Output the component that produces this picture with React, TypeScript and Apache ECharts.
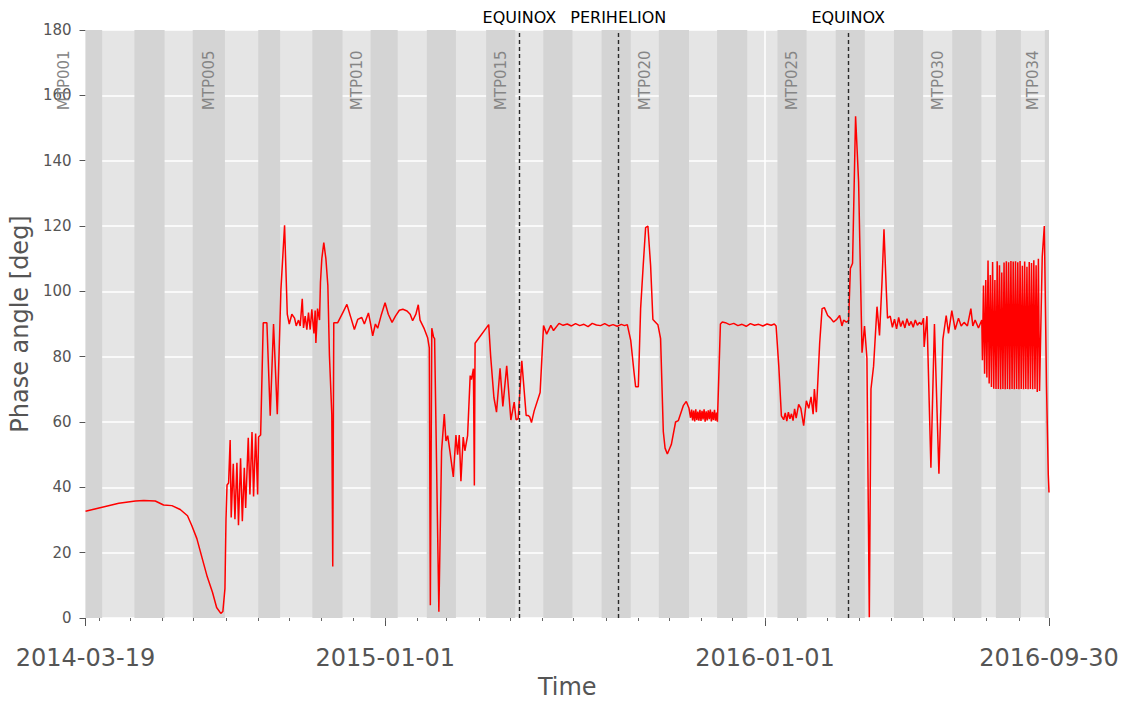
import React, { useEffect, useRef } from "react";
import * as echarts from "echarts";

const START_DATE = "2014-03-19";
const END_DATE = "2016-09-30";
const majorTickDates = ["2014-03-19", "2015-01-01", "2016-01-01", "2016-09-30"];
const yMin = 0;
const yMax = 180;
const yStep = 20;

// Start dates of MTP001 ... MTP035, followed by the end of MTP035
const mtpStartDates = [
  "2014-01-20", "2014-04-04", "2014-05-05", "2014-06-03", "2014-06-30",
  "2014-07-31", "2014-09-01", "2014-09-22", "2014-10-23", "2014-11-21",
  "2014-12-18", "2015-01-13", "2015-02-10", "2015-03-10", "2015-04-08",
  "2015-05-06", "2015-06-02", "2015-06-30", "2015-07-28", "2015-08-25",
  "2015-09-21", "2015-10-20", "2015-11-16", "2015-12-15", "2016-01-13",
  "2016-02-10", "2016-03-09", "2016-04-06", "2016-05-04", "2016-06-01",
  "2016-06-29", "2016-07-27", "2016-08-10", "2016-09-03", "2016-09-26",
  "2016-10-24",
];
const mtpLabelNumbers = [1, 5, 10, 15, 20, 25, 30, 34];

const eventDates = ["2015-05-10", "2015-08-13", "2016-03-21"];
const eventLabels = ["EQUINOX", "PERIHELION", "EQUINOX"];
const gridLineDates = ["2016-01-01"];

// [days since 2014-03-19, phase angle in degrees]
const phase2014: [number, number][] = [
  [0, 32.7], [16, 33.9], [32, 35.1], [48, 35.8], [56, 36.0], [67, 35.8], [75, 34.6], [83, 34.4],
  [91, 33.2], [98, 31.3], [102, 28.4], [107, 24.3], [112, 18.4], [117, 12.6], [122, 7.9], [126, 3.2],
  [130, 1.4], [132, 2.0], [134, 9.0], [135, 30.2], [136, 40.7], [137.5, 41.3], [139, 54.5], [140, 30.8],
  [142, 47.2], [143.6, 30.2], [145.5, 47.5], [147, 28.4], [149, 48.9], [150.7, 29.6], [152.6, 46.0],
  [153.9, 33.7], [156.4, 55.2], [158, 37.8], [160, 56.9], [161.5, 37.2], [163.5, 56.5], [165.4, 37.8],
  [166.3, 55.4], [168.3, 56.0], [170.8, 90.4], [174.3, 90.4], [177.5, 61.9], [180.7, 90.0], [184.3, 62.4],
  [187.8, 100.6], [191.3, 120.2], [193.9, 93.0], [195.8, 90.0], [198.3, 93.0], [200.9, 91.8], [202.5, 89.4],
  [204.7, 91.2], [206.3, 89.4], [208.3, 97.7], [209.5, 88.8], [211.1, 92.4], [212.7, 88.3], [214.3, 93.5],
  [215.9, 88.3], [217.5, 94.5], [219.5, 87.1], [220.7, 94.1], [221.4, 84.2], [223, 94.7], [224.9, 91.2],
  [225.8, 102.8], [227.1, 110], [229, 114.9], [231, 110], [232.9, 101.8], [234.4, 80.5], [236.7, 62.2],
  [237.6, 15.8], [238.6, 90.4], [242.4, 90.4], [243.5, 91.1], [247.3, 93.5], [251.2, 96.0], [254.6, 92.4],
  [258.4, 88.3], [261.6, 91.4], [265.5, 92.0], [268, 90.0], [271.9, 93.4], [274, 90.0], [276, 86.4],
  [278.6, 90.0], [280.8, 88.7], [284, 92.5], [287.9, 96.5],
];

const phase2015: [number, number][] = [
  [291, 93.0], [294.6, 90.5], [298, 92.5], [301.6, 94.2], [305, 94.5], [309, 94.0], [312, 93.0],
  [314.4, 91.0], [317.5, 93.0], [319.8, 95.9], [321.5, 91.2], [325.6, 88.5], [328.8, 85.8], [330.4, 82.7],
  [331.4, 3.9], [332.8, 88.7], [334.5, 86.0], [335.5, 85.5], [339.6, 1.9], [342.2, 51.1], [344.8, 62.4],
  [346.4, 54.2], [348.1, 55.8], [350.4, 50.6], [353.5, 43.2], [356, 56.0], [357.6, 50.0], [359.2, 56.0],
  [360.8, 41.9], [363, 55.4], [364.6, 51.2], [367.2, 55.8], [369.7, 74.2], [370.9, 73.0], [372.8, 76.3],
  [373.7, 40.6], [374.4, 84.1], [387.5, 89.8], [389.4, 80.0], [392.5, 67.5], [395, 63.0], [398.4, 76.4],
  [401.1, 64.8], [404.8, 77.2], [408.8, 60.6], [412, 66.1], [413.8, 60.7], [415.8, 61.0], [419.3, 78.7],
  [423.5, 62.0], [425.5, 62.0], [427, 61.5], [428.6, 59.8], [431.2, 63.4], [436.9, 69.0], [440.2, 89.5],
  [443.2, 86.9], [447.2, 89.6], [449.8, 88.0], [455.1, 90.2], [459, 89.6], [463, 90.0], [467, 89.4],
  [471, 90.1], [475, 89.5], [479, 89.9], [483, 89.2], [487, 90.2], [491, 89.7], [495, 89.5], [499, 90.1],
  [503, 89.4], [507, 89.8], [511, 89.3], [515, 89.9], [518, 89.5], [520.7, 89.8], [524, 85.0],
  [527.1, 75.4], [528.7, 70.8], [531.3, 70.8], [533.5, 94.7], [536, 108], [538.3, 119.5], [540.5, 120.0],
  [543.1, 107.9], [545.3, 91.4], [550.1, 89.8], [552.7, 85.5], [555.3, 57.1], [557, 52], [559.2, 50.2],
  [563, 53.1], [567.1, 60.0], [569.7, 60.4], [574.5, 65.0], [577.4, 66.3], [579.9, 64.3], [581.5, 61.3],
  [582.5, 63.8], [583.5, 60.5], [584.5, 63.5], [585.5, 60.2], [586.5, 63.9], [587.5, 60.6], [588.5, 63.2],
  [589.5, 60.4], [590.5, 63.7], [591.5, 60.3], [592.5, 63.4], [593.5, 60.8], [594.5, 63.9], [595.5, 60.1],
  [596.5, 63.3], [597.5, 60.5], [598.5, 63.6], [599.5, 60.9], [600.5, 63.8], [601.5, 60.2], [602.5, 63.1],
  [603.5, 60.6], [604.5, 63.7], [605.5, 60.4], [606.5, 62.9], [607.3, 60.1], [610.2, 90.0], [612, 90.6],
  [615, 90.4], [619, 89.8], [623, 90.2], [627, 89.5], [631, 89.9], [635, 89.3], [639, 90.1], [643, 89.6],
  [647, 89.9], [651, 89.4],
];

const phase2016: [number, number][] = [
  [655, 90.0], [659, 89.6], [662, 90.0], [663.7, 89.4], [666.3, 77.1], [668.8, 61.9], [671, 60.7],
  [672.5, 62.8], [674, 60.3], [675.5, 63.0], [677, 61.0], [678.5, 62.5], [680, 60.4], [681.5, 64.0],
  [683, 61.2], [685.4, 65.4], [687.5, 64.2], [690.2, 58.9], [692.8, 66.5], [695.1, 64.2], [697.3, 67.7],
  [699.3, 62.4], [700.5, 70.1], [702.4, 63.0], [705.6, 84.2], [707.9, 94.7], [710.1, 95.0], [713.3, 92.6],
  [716, 91.8], [719, 90.6], [722, 91.4], [724.8, 92.6], [727, 89.4], [728.6, 91.2], [731.2, 90.6],
  [733.4, 91.0], [735.1, 107.0], [737.2, 108.6], [740.1, 153.6], [743, 133.5], [746.3, 81.2], [748.7, 89.4],
  [751, 79.5], [753.3, 0.2], [754.9, 70.1], [757.4, 77.1], [760.7, 95.3], [763.1, 86.5], [765.5, 102.9],
  [767.4, 119.0], [769.6, 100.6], [770.8, 91.8], [773.4, 92.4], [775.5, 89.0], [777.5, 91.5], [779.5, 88.5],
  [781.5, 92.0], [783.5, 89.2], [785.5, 91.0], [787.5, 88.8], [789.5, 91.6], [791.5, 89.5], [793.5, 90.8],
  [795.5, 89.0], [797.5, 91.2], [799.5, 89.6], [801.5, 90.5], [803.5, 89.8], [805.4, 91.8], [806.0, 83.0],
  [808.7, 92.4], [812.5, 46.0], [815.9, 90.0], [820.2, 44.2], [824, 85.3], [827.2, 92.6], [829.4, 87.1],
  [832.6, 94.1], [835.8, 88.3], [839, 91.8], [841.6, 89.4], [844.4, 90.5], [847.6, 89.4], [850.9, 94.7],
  [852.8, 89.4], [855, 91.2], [858.2, 88.8], [861.4, 91.2], [862, 78.9],
  [863.0, 101.8], [864.1, 74.8], [865.2, 103.5], [866.3, 73.6], [867.4, 109.4], [868.5, 71.8], [869.6, 105.0],
  [870.7, 70.7], [871.8, 109.0], [872.9, 70.2], [874.0, 103.5], [875.1, 70.1], [876.2, 109.2], [877.3, 70.1],
  [878.4, 108.0], [879.5, 70.0], [880.6, 105.8], [881.7, 70.1], [882.8, 108.8], [883.9, 70.0], [885.0, 109.2],
  [886.1, 70.1], [887.2, 108.9], [888.3, 70.0], [889.4, 109.3], [890.5, 70.1], [891.6, 109.1], [892.7, 70.0],
  [893.8, 109.2], [894.9, 70.1], [896.0, 108.9], [897.1, 70.0], [898.2, 109.3], [899.3, 70.1], [900.4, 107.8],
  [901.5, 70.0], [902.6, 109.1], [903.7, 70.1], [904.8, 107.5], [905.9, 70.0], [907.0, 109.0], [908.1, 70.1],
  [909.2, 108.7], [910.3, 70.0], [911.4, 109.5], [912.5, 70.1], [913.6, 108.0], [914.7, 69.2], [915.8, 110.0],
  [916.9, 69.5], [919.5, 110.6], [921.5, 120.0], [923.6, 71.2], [925.3, 43.9], [926, 38.4],
];

const DAY = 86400000;
const toTs = (s: string) => Date.parse(s + "T00:00:00Z");
const fmtDate = (v: number) => new Date(v).toISOString().slice(0, 10);

const FONT = "DejaVu Sans";
const MTP_LABEL_Y = 164.6;

export default function App() {
  const ref = useRef<HTMLDivElement>(null);

  useEffect(() => {
    document.body.style.margin = "0";
    if (!ref.current) return;
    const chart = echarts.init(ref.current, undefined, { renderer: "svg" });

    const xMin = toTs(START_DATE);
    const xMax = toTs(END_DATE);
    const clamp = (v: number) => Math.min(xMax, Math.max(xMin, v));

    const lineData = [...phase2014, ...phase2015, ...phase2016].map(([d, v]) => [xMin + d * DAY, v]);

    const mtpTs = mtpStartDates.map(toTs);
    const bands: any[] = [];
    for (let i = 0; i < mtpTs.length - 1; i += 2) {
      bands.push([{ xAxis: clamp(mtpTs[i]) }, { xAxis: clamp(mtpTs[i + 1]) }]);
    }

    const monthTicks: number[] = [];
    for (let y = 2014, m = 3; ; m++) {
      if (m > 11) { m = 0; y++; }
      const t = Date.UTC(y, m, 1);
      if (t > xMax) break;
      monthTicks.push(t);
    }
    const majors = majorTickDates.map(toTs);

    const option: any = {
      animation: false,
      textStyle: { fontFamily: FONT },
      grid: {
        left: 84, right: 81, top: 30, bottom: 83,
        show: true, backgroundColor: "#E5E5E5", borderWidth: 0,
      },
      xAxis: [
        {
          type: "value", min: xMin, max: xMax,
          axisLine: { show: false },
          splitLine: { show: false },
          axisTick: { show: true, customValues: majors, length: 8, lineStyle: { color: "#555", width: 1 } },
          axisLabel: {
            show: true, customValues: majors, formatter: (v: number) => fmtDate(v),
            fontSize: 24, color: "#555", margin: 28, fontFamily: FONT,
          },
          name: "Time", nameLocation: "middle", nameGap: 57,
          nameTextStyle: { fontSize: 24, color: "#555", fontFamily: FONT },
        },
        {
          type: "value", min: xMin, max: xMax, position: "bottom",
          axisLine: { show: false },
          splitLine: { show: false },
          axisLabel: { show: false },
          axisTick: { show: true, customValues: monthTicks, length: 3, lineStyle: { color: "#666", width: 1 } },
        },
      ],
      yAxis: {
        type: "value", min: yMin, max: yMax, interval: yStep,
        axisLine: { show: false },
        axisTick: { show: true, length: 6, lineStyle: { color: "#555", width: 1 } },
        axisLabel: { fontSize: 15, color: "#555", margin: 14, fontFamily: FONT },
        splitLine: { show: true, lineStyle: { color: "#FFFFFF", width: 1.5 } },
        name: "Phase angle [deg]", nameLocation: "middle", nameGap: 46,
        nameTextStyle: { fontSize: 24, color: "#555", fontFamily: FONT },
      },
      series: [
        {
          type: "line",
          name: "Phase angle",
          xAxisIndex: 0,
          data: lineData,
          showSymbol: false,
          symbol: "none",
          silent: true,
          z: 2,
          lineStyle: { color: "#FF0000", width: 1.5 },
          markArea: {
            silent: true,
            z: 1,
            itemStyle: { color: "#D4D4D4", opacity: 1 },
            label: { show: false },
            data: bands,
          },
          markLine: {
            silent: true,
            z: 5,
            symbol: ["none", "none"],
            lineStyle: { color: "#2a2a2a", width: 1.4, type: [4, 3] },
            label: {
              show: true, position: "end", distance: 5, formatter: "{b}",
              color: "#000", fontSize: 16, fontFamily: FONT,
            },
            data: eventDates.map((d, i) => ({ xAxis: toTs(d), name: eventLabels[i] })),
          },
        },
        {
          type: "line",
          name: "grid",
          xAxisIndex: 0,
          data: [],
          silent: true,
          markLine: {
            silent: true,
            z: 1,
            symbol: ["none", "none"],
            lineStyle: { color: "#FFFFFF", width: 1.5, type: "solid" },
            label: { show: false },
            data: gridLineDates.map((d) => ({ xAxis: toTs(d) })),
          },
        },
      ],
    };

    chart.setOption(option);

    // MTP labels, placed through the chart's own coordinate conversion
    const labelGraphics: any[] = mtpLabelNumbers.map((n) => {
      const center = (mtpTs[n - 1] + mtpTs[n]) / 2;
      const [px, py] = chart.convertToPixel({ xAxisIndex: 0, yAxisIndex: 0 }, [center, MTP_LABEL_Y]) as number[];
      return {
        type: "text",
        x: px,
        y: py,
        rotation: Math.PI / 2,
        z: 10,
        silent: true,
        style: {
          text: "MTP" + String(n).padStart(3, "0"),
          fill: "#858585",
          fontSize: 15,
          fontFamily: FONT,
          align: "center",
          verticalAlign: "middle",
        },
      };
    });
    chart.setOption({ graphic: labelGraphics });

    return () => chart.dispose();
  }, []);

  return <div ref={ref} style={{ width: 1130, height: 704 }} />;
}
